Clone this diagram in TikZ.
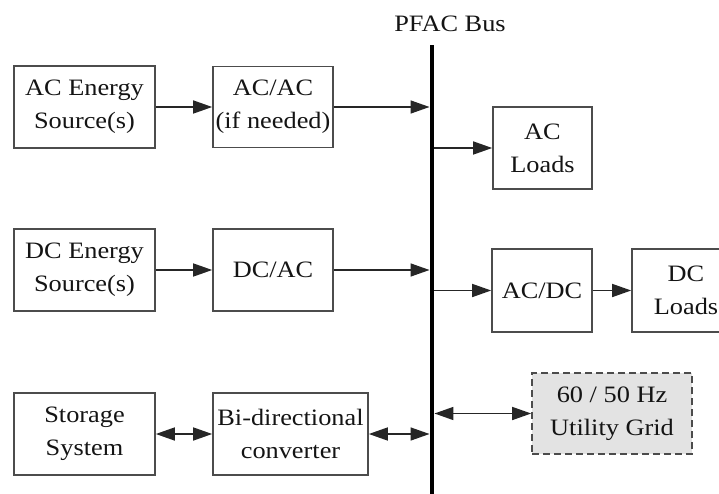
\documentclass[tikz,border=0pt]{standalone}
\usepackage{fontspec}
\setmainfont[FakeStretch=1.12]{Liberation Serif}
\usetikzlibrary{arrows.meta}
\begin{document}
\begin{tikzpicture}[x=1pt,y=-1pt,
  box/.style={draw=black!70, line width=1.6pt, minimum height=82pt, inner sep=0pt,
    align=center, text=black!92, font=\fontsize{23.5}{33}\selectfont},
  gridbox/.style={box, dashed, dash pattern=on 7pt off 4pt, fill=black!11},
  conn/.style={draw=black!85, line width=1.5pt, -{Triangle[length=19pt,width=13pt]}},
  bconn/.style={draw=black!85, line width=1.5pt, {Triangle[length=19pt,width=13pt]}-{Triangle[length=19pt,width=13pt]}},
  lbl/.style={text=black!92, font=\fontsize{23.5}{33}\selectfont, inner sep=0pt}]
\useasboundingbox (0,0) rectangle (719,494);
% bus
\node[fill=black, minimum width=4.5pt, minimum height=449pt, inner sep=0pt] (bus) at (432,269.5) {};
\node[lbl] (buslbl) at (450,24) {PFAC Bus};
% row 1
\node[box, minimum width=141pt] (acsrc) at (84.5,107) {AC Energy\\Source(s)};
\node[box, minimum width=120pt, minimum height=81pt] (acac) at (273,107) {AC/AC\\(if needed)};
\node[box, minimum width=99pt] (acload) at (542.5,148) {AC\\Loads};
% row 2
\node[box, minimum width=141pt] (dcsrc) at (84.5,270) {DC Energy\\Source(s)};
\node[box, minimum width=120pt] (dcac) at (273,270) {DC/AC};
\node[box, minimum width=100pt, minimum height=83pt] (acdc) at (542,290.5) {AC/DC};
\node[box, minimum width=108pt, minimum height=83pt] (dcload) at (686,290.5) {DC\\Loads};
% row 3
\node[gridbox, minimum width=160pt, minimum height=81pt] (grid) at (612,413.5) {60 / 50 Hz\\Utility Grid};
\node[box, minimum width=141pt] (stor) at (84.5,434) {Storage\\System};
\node[box, minimum width=155pt] (bidir) at (290.5,434) {Bi-directional\\converter};
% connectors
\draw[conn] (acsrc.east) -- (acac.west);
\draw[conn] (acac.east) -- (acac.east -| bus.west);
\draw[conn] (acload.west -| bus.east) -- (acload.west);
\draw[conn] (dcsrc.east) -- (dcac.west);
\draw[conn] (dcac.east) -- (dcac.east -| bus.west);
\draw[conn] (acdc.west -| bus.east) -- (acdc.west);
\draw[conn] (acdc.east) -- (dcload.west);
\draw[bconn] (grid.west -| bus.east) -- (grid.west);
\draw[bconn] (stor.east) -- (bidir.west);
\draw[bconn] (bidir.east) -- (bidir.east -| bus.west);
\end{tikzpicture}
\end{document}
